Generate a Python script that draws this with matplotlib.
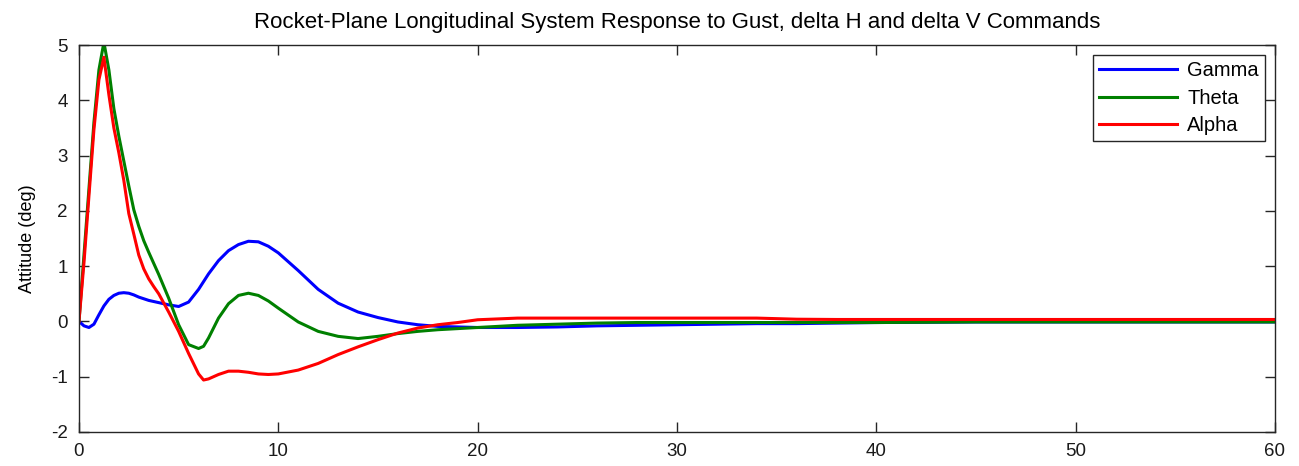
import matplotlib
matplotlib.use("Agg")
import matplotlib.pyplot as plt

# Time samples (s)
t = [0, 0.25, 0.5, 0.75, 1.0, 1.25, 1.5, 1.75, 2.0, 2.25, 2.5, 2.75, 3, 3.25,
     3.5, 3.75, 4, 4.5, 5, 5.5, 6, 6.25, 6.5, 7, 7.5, 8, 8.5, 9, 9.5, 10, 11,
     12, 13, 14, 15, 16, 17, 18, 19, 20, 22, 24, 26, 28, 30, 32, 34, 36, 38,
     40, 45, 50, 55, 60]

# Flight path angle response (deg)
gamma = [0, -0.08, -0.11, -0.05, 0.12, 0.28, 0.40, 0.47, 0.51, 0.52, 0.51, 0.48,
         0.44, 0.41, 0.38, 0.36, 0.34, 0.30, 0.27, 0.35, 0.58, 0.72, 0.86, 1.10,
         1.28, 1.39, 1.45, 1.44, 1.36, 1.24, 0.92, 0.58, 0.33, 0.17, 0.07, -0.01,
         -0.06, -0.09, -0.10, -0.11, -0.11, -0.10, -0.08, -0.07, -0.06, -0.05,
         -0.04, -0.04, -0.03, -0.02, -0.01, -0.01, -0.01, -0.01]

# Pitch attitude response (deg)
theta = [0, 1.2, 2.4, 3.6, 4.55, 5.05, 4.55, 3.85, 3.35, 2.9, 2.45, 2.02, 1.72,
         1.46, 1.25, 1.05, 0.85, 0.42, -0.06, -0.42, -0.49, -0.45, -0.30, 0.06,
         0.32, 0.47, 0.51, 0.47, 0.37, 0.24, -0.01, -0.18, -0.27, -0.31, -0.27,
         -0.22, -0.18, -0.15, -0.13, -0.11, -0.07, -0.05, -0.03, -0.02, -0.02,
         -0.02, -0.02, -0.02, -0.02, -0.02, -0.01, -0.01, -0.01, -0.01]

# Angle of attack response (deg)
alpha = [0, 1.06, 2.27, 3.47, 4.37, 4.78, 4.1, 3.5, 3.05, 2.55, 1.95, 1.58, 1.2,
         0.95, 0.77, 0.63, 0.5, 0.17, -0.18, -0.58, -0.95, -1.06, -1.04, -0.96,
         -0.9, -0.9, -0.92, -0.95, -0.96, -0.95, -0.88, -0.76, -0.6, -0.46, -0.33,
         -0.21, -0.12, -0.06, -0.02, 0.03, 0.06, 0.06, 0.06, 0.06, 0.06, 0.06,
         0.06, 0.04, 0.035, 0.035, 0.035, 0.035, 0.035, 0.035]

x_ticks = [0, 10, 20, 30, 40, 50, 60]
y_ticks = [-2, -1, 0, 1, 2, 3, 4, 5]

plt.rcParams['font.family'] = ['Liberation Sans', 'DejaVu Sans']
plt.rcParams['axes.unicode_minus'] = False

fig = plt.figure(figsize=(12.99, 4.66), dpi=100)
ax = fig.add_axes([0.0608, 0.073, 0.9207, 0.8304])

ax.plot(t, gamma, color='#0000ff', lw=2.2, label='Gamma')
ax.plot(t, theta, color='#008000', lw=2.2, label='Theta')
ax.plot(t, alpha, color='#ff0000', lw=2.2, label='Alpha')

ax.set_xlim(0, 60)
ax.set_ylim(-2, 5)
ax.set_xticks(x_ticks)
ax.set_yticks(y_ticks)
ax.tick_params(direction='in', length=7, width=1, top=True, right=True,
               labelsize=13.5, pad=8, colors='#262626', labelcolor='#1a1a1a')
for s in ax.spines.values():
    s.set_linewidth(1)
    s.set_color('#262626')

ax.set_ylabel('Attitude (deg)', fontsize=13, labelpad=11)
ax.set_title('Rocket-Plane Longitudinal System Response to Gust, delta H and delta V Commands',
             fontsize=16, pad=12)

leg = ax.legend(loc='upper right', fontsize=14.5, fancybox=False, framealpha=1,
                edgecolor='#262626', handlelength=3.9, handletextpad=0.5,
                borderaxespad=0.5, labelspacing=0.42, borderpad=0.3)
leg.get_frame().set_linewidth(1)

fig.savefig('out.png', dpi=100, facecolor='white')
